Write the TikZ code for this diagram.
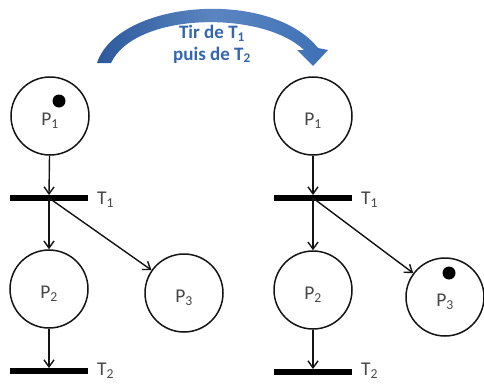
\documentclass[tikz,border=0pt]{standalone}
\usepackage{fontspec}
\setmainfont{Carlito}
\usetikzlibrary{arrows.meta}
\definecolor{linegray}{RGB}{20,20,20}
\definecolor{txtgray}{RGB}{70,70,70}
\definecolor{bigblue}{RGB}{62,112,182}
\definecolor{bigbluedark}{RGB}{45,88,155}
\definecolor{titleblue}{RGB}{52,102,176}
\tikzset{
  place/.style={circle,draw=linegray,line width=1.5pt,minimum size=78pt,inner sep=0pt},
  bar/.style={rectangle,fill=black,minimum width=78pt,minimum height=5.5pt,inner sep=0pt},
  arc/.style={draw=linegray,line width=1.4pt,-{Straight Barb[length=7pt,width=10pt,line width=1.4pt]}},
  plabel/.style={font=\fontsize{19.5}{22}\selectfont,text=txtgray,inner sep=0pt},
  tlabel/.style={font=\fontsize{19.5}{22}\selectfont,text=txtgray,anchor=base west,inner sep=0pt},
  token/.style={circle,fill=black,minimum size=13pt,inner sep=0pt},
  title/.style={font=\fontsize{19}{22}\selectfont\bfseries,text=titleblue,inner sep=0pt}
}
\begin{document}
\begin{tikzpicture}[x=1pt,y=-1pt]
\useasboundingbox (0,0) rectangle (484,383);
% big curved arrow
\shade[left color=bigbluedark,right color=bigblue,middle color=bigblue!85!white]
  (97,63) .. controls (118,0) and (270,-12) .. (318,48)
  -- (328,50) -- (313,66) -- (297,50) -- (304,50)
  .. controls (262,10) and (135,12) .. (111,63) -- cycle;
\node[title] (ttl1) at (212,33) {Tir de T\textsubscript{1}};
\node[title] (ttl2) at (212,55) {puis de T\textsubscript{2}};
% left net
\node[place] (p1) at (50,116) {};
\node[plabel] (lp1) at (50,121) {P\textsubscript{1}};
\node[token] (k1) at (59,101) {};
\node[bar] (t1) at (49,198) {};
\node[tlabel] (lt1) at (97,204) {T\textsubscript{1}};
\node[place] (p2) at (49,289) {};
\node[plabel] (lp2) at (49,294) {P\textsubscript{2}};
\node[place] (p3) at (184,293) {};
\node[plabel] (lp3) at (184,298) {P\textsubscript{3}};
\node[bar] (t2) at (49,371) {};
\node[tlabel] (lt2) at (97,375) {T\textsubscript{2}};
\draw[arc] (p1) -- (t1.north);
\draw[arc] (t1.center) -- (p2);
\draw[arc] (t1.center) -- (p3);
\draw[arc] (p2) -- (t2.north);
% right net
\node[place] (q1) at (313,116) {};
\node[plabel] (lq1) at (313,121) {P\textsubscript{1}};
\node[bar] (u1) at (313,198) {};
\node[tlabel] (lu1) at (361,204) {T\textsubscript{1}};
\node[place] (q2) at (313,290) {};
\node[plabel] (lq2) at (313,295) {P\textsubscript{2}};
\node[place] (q3) at (445,297) {};
\node[plabel] (lq3) at (445,302) {P\textsubscript{3}};
\node[token] (k3) at (449,273) {};
\node[bar] (u2) at (313,372) {};
\node[tlabel] (lu2) at (361,375) {T\textsubscript{2}};
\draw[arc] (q1) -- (u1.north);
\draw[arc] (u1.center) -- (q2);
\draw[arc] (u1.center) -- (q3);
\draw[arc] (q2) -- (u2.north);
\end{tikzpicture}
\end{document}
